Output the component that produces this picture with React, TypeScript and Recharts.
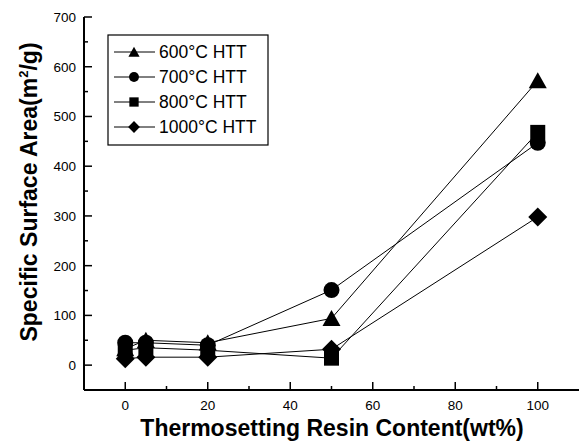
import { LineChart, Line, XAxis, YAxis } from 'recharts';

const resinContent = [0, 5, 20, 50, 100];
const htt600 = [33, 50, 45, 94, 572];
const htt700 = [45, 45, 40, 151, 447];
const htt800 = [30, 35, 30, 14, 468];
const htt1000 = [13, 16, 16, 32, 298];

const xTicks = [0, 10, 20, 30, 40, 50, 60, 70, 80, 90, 100];
const yTicks = [-50, 0, 50, 100, 150, 200, 250, 300, 350, 400, 450, 500, 550, 600, 650, 700];

const seriesInfo = [
  { key: 'htt600', name: '600°C HTT', shape: 'triangle' },
  { key: 'htt700', name: '700°C HTT', shape: 'circle' },
  { key: 'htt800', name: '800°C HTT', shape: 'square' },
  { key: 'htt1000', name: '1000°C HTT', shape: 'diamond' },
];

const data = resinContent.map((x, i) => ({
  x,
  htt600: htt600[i],
  htt700: htt700[i],
  htt800: htt800[i],
  htt1000: htt1000[i],
}));

const FONT = 'Liberation Sans, Arial, sans-serif';

const Marker = ({ cx, cy, shape, s = 1 }: { cx: number; cy: number; shape: string; s?: number }) => {
  if (cx == null || cy == null) return null;
  if (shape === 'triangle') {
    const w = 9 * s, h = 8.5 * s;
    return <polygon points={`${cx},${cy - h} ${cx - w},${cy + h * 0.9} ${cx + w},${cy + h * 0.9}`} fill="#000" />;
  }
  if (shape === 'circle') return <circle cx={cx} cy={cy} r={8 * s} fill="#000" />;
  if (shape === 'square') {
    const h = 7.5 * s;
    return <rect x={cx - h} y={cy - h} width={h * 2} height={h * 2} fill="#000" />;
  }
  const d = 9.5 * s;
  return <polygon points={`${cx},${cy - d} ${cx + d},${cy} ${cx},${cy + d} ${cx - d},${cy}`} fill="#000" />;
};

const BottomTick = ({ x, y, payload }: any) => {
  const major = payload.value % 20 === 0;
  return (
    <g>
      <line x1={x} y1={y} x2={x} y2={y - (major ? 8 : 4)} stroke="#000" strokeWidth={1.5} />
      {major && (
        <text x={x} y={y + 20} textAnchor="middle" fontSize={13.5} fontFamily={FONT} fill="#000">
          {payload.value}
        </text>
      )}
    </g>
  );
};

const TopTick = ({ x, y, payload }: any) => {
  const major = payload.value % 20 === 0;
  return <line x1={x} y1={y} x2={x} y2={y + (major ? 8 : 4)} stroke="#000" strokeWidth={1.5} />;
};

const LeftTick = ({ x, y, payload }: any) => {
  const major = payload.value % 100 === 0;
  return (
    <g>
      <line x1={x} y1={y} x2={x + (major ? 8 : 4)} y2={y} stroke="#000" strokeWidth={1.5} />
      {major && (
        <text x={x - 8} y={y + 5} textAnchor="end" fontSize={13.5} fontFamily={FONT} fill="#000">
          {payload.value}
        </text>
      )}
    </g>
  );
};

const RightTick = ({ x, y, payload }: any) => {
  const major = payload.value % 100 === 0;
  return <line x1={x} y1={y} x2={x - (major ? 8 : 4)} y2={y} stroke="#000" strokeWidth={1.5} />;
};

const LegendBox = () => (
  <svg width={162} height={112} style={{ display: 'block' }}>
    <rect x={1} y={1} width={160} height={110} fill="#fff" stroke="#000" strokeWidth={1.2} />
    {seriesInfo.map((s, i) => {
      const cy = 18 + i * 25;
      return (
        <g key={s.key}>
          <line x1={7} y1={cy} x2={48} y2={cy} stroke="#000" strokeWidth={1} />
          <Marker cx={27} cy={cy} shape={s.shape} s={0.62} />
          <text x={52} y={cy + 6} fontSize={17.5} fontFamily={FONT} fill="#000">
            {s.name}
          </text>
        </g>
      );
    })}
  </svg>
);

export default function App() {
  return (
    <div style={{ position: 'absolute', left: 0, top: 0, width: 579, height: 442, background: '#fff', overflow: 'hidden' }}>
      <LineChart width={579} height={442} data={data} margin={{ top: 17, right: 0, bottom: 0, left: 0 }}>
        <XAxis
          dataKey="x"
          type="number"
          domain={[-10, 110]}
          ticks={xTicks}
          interval={0}
          height={52}
          tickSize={0}
          tickMargin={0}
          tickLine={false}
          axisLine={{ stroke: '#000', strokeWidth: 2 }}
          tick={<BottomTick />}
          allowDataOverflow
          label={{
            content: () => (
              <text x={332} y={436} textAnchor="middle" fontSize={23} fontWeight="bold" fontFamily={FONT} fill="#000">
                Thermosetting Resin Content(wt%)
              </text>
            ),
          }}
        />
        <XAxis
          xAxisId="top"
          dataKey="x"
          orientation="top"
          type="number"
          domain={[-10, 110]}
          ticks={xTicks}
          interval={0}
          height={0}
          tickSize={0}
          tickMargin={0}
          tickLine={false}
          axisLine={{ stroke: '#000', strokeWidth: 2 }}
          tick={<TopTick />}
          allowDataOverflow
        />
        <YAxis
          type="number"
          domain={[-50, 700]}
          ticks={yTicks}
          interval={0}
          width={84}
          tickSize={0}
          tickMargin={0}
          tickLine={false}
          axisLine={{ stroke: '#000', strokeWidth: 2 }}
          tick={<LeftTick />}
          allowDataOverflow
          label={{
            content: () => (
              <text
                x={37}
                y={192}
                transform="rotate(-90 37 192)"
                textAnchor="middle"
                fontSize={23}
                fontWeight="bold"
                fontFamily={FONT}
                fill="#000"
              >
                Specific Surface Area(m
                <tspan dy={-9} fontSize={13}>2</tspan>
                <tspan dy={9}>/g)</tspan>
              </text>
            ),
          }}
        />
        <YAxis
          yAxisId="right"
          orientation="right"
          type="number"
          domain={[-50, 700]}
          ticks={yTicks}
          interval={0}
          width={0}
          tickSize={0}
          tickMargin={0}
          tickLine={false}
          axisLine={false}
          tick={<RightTick />}
          allowDataOverflow
        />
        <Line
          xAxisId="top"
          yAxisId="right"
          dataKey="htt600"
          stroke="none"
          dot={false}
          activeDot={false}
          isAnimationActive={false}
          legendType="none"
        />
        {seriesInfo.map((s) => (
          <Line
            key={s.key}
            dataKey={s.key}
            name={s.name}
            type="linear"
            stroke="#000"
            strokeWidth={1}
            isAnimationActive={false}
            dot={(p: any) => <Marker key={`${s.key}-${p.index}`} cx={p.cx} cy={p.cy} shape={s.shape} />}
            activeDot={false}
          />
        ))}
      </LineChart>
      <div style={{ position: 'absolute', left: 107, top: 34 }}>
        <LegendBox />
      </div>
    </div>
  );
}
